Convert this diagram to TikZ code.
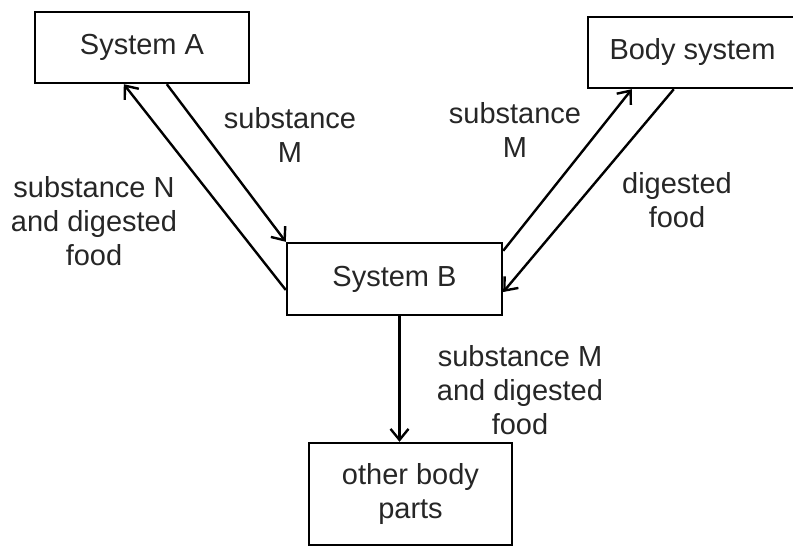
\documentclass[tikz,border=0pt]{standalone}
\usepackage{fontspec}
\setmainfont{Liberation Sans}
\usepackage{tikz}
\usetikzlibrary{calc,arrows.meta}
\definecolor{ink}{HTML}{262626}

\begin{document}
\begin{tikzpicture}[x=1pt,y=-1pt,line width=2.4pt]
  \tikzstyle{system} = [draw,inner sep=0pt,text=ink,font=\fontsize{29}{34}\selectfont,align=center]
  \tikzstyle{flowtext} = [inner sep=0pt,text=ink,font=\fontsize{29}{34}\selectfont,align=center]
  \tikzstyle{flow} = [-{Straight Barb[length=11pt,width=18pt]}]
  %
  \useasboundingbox (0,0) rectangle (793,549);
  \clip (0,0) rectangle (793,549);
  % Boxes.
  \node[system,minimum width=214pt,minimum height=71pt] (sysA) at (142,47.5) {System A};
  \node[system,minimum width=209pt,minimum height=71pt] (body) at (692.5,52.5) {Body system};
  \node[system,minimum width=215pt,minimum height=72pt] (sysB) at (394.5,279) {System B};
  \node[system,minimum width=203pt,minimum height=102pt] (other) at (410.5,494) {other body\\parts};
  % Labels.
  \node[flowtext] (lblMA) at (290,135) {substance\\M};
  \node[flowtext] (lblNA) at (94,221) {substance N\\and digested\\food};
  \node[flowtext] (lblMB) at (515,130) {substance\\M};
  \node[flowtext] (lblFood) at (677,200) {digested\\food};
  \node[flowtext] (lblOut) at (520,390) {substance M\\and digested\\food};
  % Arrows.
  \draw[flow] ([yshift=-11pt]sysB.west) -- ([xshift=90pt]sysA.south west);
  \draw[flow] ([xshift=133pt]sysA.south west) -- (sysB.north west);
  \draw[flow] ([yshift=-9pt]sysB.north east) -- ([xshift=45pt]body.south west);
  \draw[flow] ([xshift=87pt]body.south west) -- ([yshift=-13pt]sysB.east);
  \draw[flow] ([xshift=5pt]sysB.south) -- ([xshift=5pt]sysB.south |- other.north);
\end{tikzpicture}
\end{document}
